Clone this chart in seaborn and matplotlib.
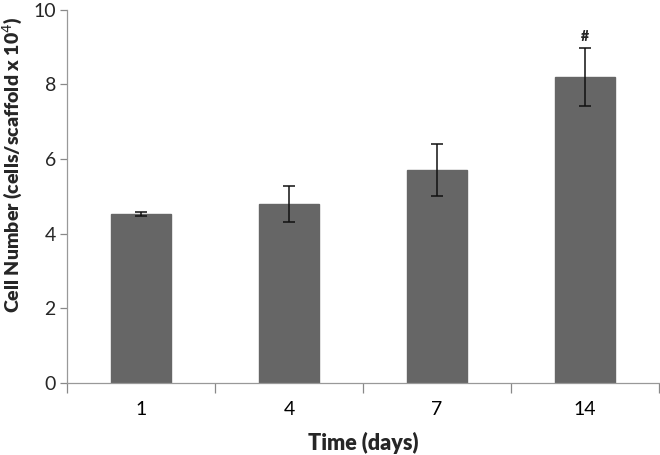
import matplotlib
matplotlib.use("Agg")
import matplotlib.pyplot as plt
import seaborn as sns
import pandas as pd
import numpy as np

days = ["1", "4", "7", "14"]
cell_number = [4.52, 4.80, 5.70, 8.20]
errors = [0.05, 0.48, 0.70, 0.78]
marks = ["", "", "", "#"]
yticks = [0, 2, 4, 6, 8, 10]

sns.set_theme(style="white")
plt.rcParams['font.family'] = ['Lato', 'DejaVu Sans']

df = pd.DataFrame({"Time": days, "Cells": cell_number})

fig = plt.figure(figsize=(6.6, 4.55), dpi=100)
ax = fig.add_axes([0.1015, 0.158, 0.897, 0.821])
sns.barplot(data=df, x="Time", y="Cells", color="#666666", saturation=1,
            width=0.4, ax=ax, errorbar=None, edgecolor="#666666")
pos = np.arange(len(days))
ax.errorbar(pos, cell_number, yerr=errors, fmt="none", ecolor="#111111",
            elinewidth=1.1, capsize=4.5, capthick=1.1)
for x, v, e, m in zip(pos, cell_number, errors, marks):
    if m:
        ax.text(x, v + e + 0.12, m, ha="center", va="bottom", fontsize=10,
                fontweight="heavy")

ax.set_xlim(-0.5, len(days) - 0.5)
ax.set_ylim(0, 10)
ax.set_yticks(yticks)
ax.set_xticks(pos)
ax.set_xticklabels(days)
ax.set_xticks(np.arange(-0.5, len(days), 1.0), minor=True)
ax.tick_params(axis="x", which="major", length=0, labelsize=14, pad=13, colors="black")
ax.tick_params(axis="x", which="minor", length=7, width=0.9, color="#888888", direction="out", bottom=True)
ax.tick_params(axis="y", length=5, width=0.9, color="#888888", direction="out", labelsize=14, left=True, pad=3)
for s in ["top", "right"]:
    ax.spines[s].set_visible(False)
for s in ["left", "bottom"]:
    ax.spines[s].set_color("#999999")
    ax.spines[s].set_linewidth(0.9)
ax.set_xlabel("Time (days)", fontsize=15.5, fontweight="heavy", labelpad=10)
ax.set_ylabel("Cell Number (cells/scaffold x 10$^{4}$)", fontsize=14, fontweight="heavy")
ax.yaxis.set_label_coords(-0.071, 0.584)
fig.savefig("out.png", dpi=100)
